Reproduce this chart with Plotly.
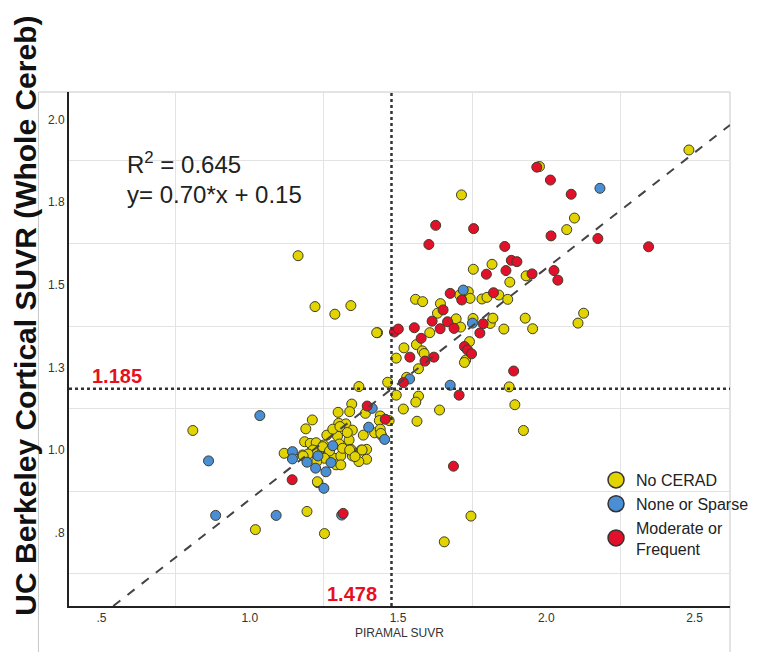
import plotly.graph_objects as go

# ---------------- data ----------------
no_cerad_x = [2.481, 1.977, 1.714, 2.095, 2.069, 1.754, 1.817, 1.932, 1.877, 1.737, 1.708, 1.743, 1.559, 1.583,
              1.783, 1.800, 1.840, 1.870, 1.643, 1.633, 1.696, 1.711, 1.753, 1.811, 1.820, 1.857, 1.929, 1.954,
              2.107, 2.126, 1.431, 1.607, 1.520, 1.562, 1.582, 1.588, 1.494, 1.569, 1.741, 1.728, 1.724, 1.465,
              1.529, 1.875, 1.494, 1.569,
              1.560, 1.518, 1.640, 1.564, 1.894, 1.923, 1.390, 1.440, 1.437, 1.470, 1.421, 1.440, 1.444, 1.394,
              1.394, 1.746, 1.656,
              1.163, 1.220, 1.287, 1.341, 1.428, 1.368,
              0.808, 1.230, 1.193, 1.019, 1.252,
              1.344, 1.298, 1.337, 1.211, 1.300, 1.324, 1.346, 1.189, 1.260, 1.296, 1.335, 1.383, 1.185, 1.204,
              1.224, 1.249, 1.302, 1.341, 1.376, 1.116, 1.178, 1.202, 1.222, 1.246, 1.268, 1.285, 1.307, 1.291,
              1.307, 1.346, 1.368, 1.228, 1.280, 1.304, 1.329, 1.246, 1.313, 1.269, 1.213, 1.197, 1.180, 1.252,
              1.337, 1.355, 1.379, 1.226, 1.442]
no_cerad_y = [1.908, 1.858, 1.772, 1.702, 1.667, 1.547, 1.562, 1.527, 1.508, 1.479, 1.469, 1.459, 1.456, 1.449,
              1.457, 1.462, 1.469, 1.456, 1.443, 1.414, 1.397, 1.372, 1.398, 1.383, 1.399, 1.366, 1.399, 1.367,
              1.384, 1.414, 1.355, 1.355, 1.309, 1.319, 1.300, 1.292, 1.278, 1.246, 1.328, 1.272, 1.265, 1.205,
              1.220, 1.191, 1.166, 1.163,
              1.145, 1.124, 1.121, 1.087, 1.137, 1.059, 1.111, 1.103, 1.089, 1.089, 1.052, 1.063, 1.045, 1.002,
              0.972, 0.800, 0.722,
              1.588, 1.434, 1.411, 1.437, 1.355, 1.192,
              1.059, 0.901, 0.814, 0.759, 0.747,
              1.139, 1.114, 1.116, 1.091, 1.081, 1.079, 1.060, 1.064, 1.045, 1.042, 1.030, 1.045, 1.025, 1.020,
              1.022, 1.015, 1.018, 1.002, 1.000, 0.990, 0.985, 0.990, 0.998, 0.978, 0.982, 0.975, 0.982, 0.955,
              0.955, 0.982, 0.965, 0.904, 1.063, 1.071, 1.053, 1.010, 1.005, 0.997, 1.000, 0.988, 0.982, 0.975,
              1.000, 0.980, 1.000, 0.965, 1.050]

sparse_x = [2.181, 1.720, 1.751, 1.539, 1.676, 1.413, 1.401, 1.455, 1.034, 0.861, 1.250, 0.885, 1.089, 1.310,
            1.280, 1.144, 1.144, 1.193, 1.230, 1.274, 1.222, 1.257]
sparse_y = [1.792, 1.484, 1.384, 1.215, 1.196, 1.126, 1.069, 1.032, 1.104, 0.967, 0.884, 0.802, 0.802, 0.803,
            1.013, 0.995, 0.973, 0.963, 0.982, 0.962, 0.945, 0.934]

moderate_x = [1.968, 2.014, 2.084, 1.627, 1.755, 1.604, 2.016, 2.174, 2.345, 1.860, 1.882, 1.901, 1.864, 1.798,
              1.952, 2.026, 2.039, 1.676, 1.715, 1.822, 1.652, 1.615, 1.667, 1.642, 1.689, 1.787, 1.776, 1.488,
              1.501, 1.555, 1.578, 1.540, 1.591, 1.621, 1.724, 1.734, 1.748, 1.890, 1.518, 1.706, 1.687, 1.396,
              1.457, 1.143, 1.315]
moderate_y = [1.856, 1.817, 1.774, 1.680, 1.670, 1.622, 1.648, 1.640, 1.615, 1.616, 1.574, 1.570, 1.543, 1.532,
              1.533, 1.543, 1.514, 1.474, 1.454, 1.476, 1.424, 1.390, 1.388, 1.367, 1.368, 1.382, 1.354, 1.357,
              1.366, 1.370, 1.338, 1.281, 1.269, 1.281, 1.313, 1.303, 1.291, 1.239, 1.204, 1.166, 0.951, 1.133,
              1.093, 0.910, 0.808]

series_names = ["No CERAD", "None or Sparse", "Moderate or<br>Frequent"]
series_colors = ["#e2d400", "#4a8fd6", "#e3102c"]

fit_slope = 0.70
fit_intercept = 0.15
r_squared = 0.645
x_cut = 1.478
y_cut = 1.185

x_tick_vals = [0.5, 1.0, 1.5, 2.0, 2.5]
x_tick_text = [".5", "1.0", "1.5", "2.0", "2.5"]
x_grid_vals = [0.75, 1.25, 1.75, 2.25]
y_tick_vals = [0.75, 1.0, 1.25, 1.5, 1.75, 2.0]
y_tick_text = [".8", "1.0", "1.3", "1.5", "1.8", "2.0"]
y_grid_vals = [0.625, 0.875, 1.125, 1.375, 1.625, 1.875]

x_range = [0.3904, 2.6196]
y_range = [0.5278, 2.0835]

# ---------------- figure ----------------
fig = go.Figure()

tick_font = dict(family="Liberation Sans Narrow, Arial Narrow, Liberation Sans, Arial", size=12, color="#333333")

for xs, ys, col in [(no_cerad_x, no_cerad_y, series_colors[0]),
                    (sparse_x, sparse_y, series_colors[1]),
                    (moderate_x, moderate_y, series_colors[2])]:
    fig.add_trace(go.Scatter(x=xs, y=ys, mode="markers", showlegend=False, hoverinfo="skip",
                             marker=dict(size=10, color=col, line=dict(color="#3d3d2a", width=1))))

# regression line
x_start = (y_range[0] - fit_intercept) / fit_slope
fit_x = [x_start, x_range[1]]
fit_y = [fit_slope * v + fit_intercept for v in fit_x]
fig.add_trace(go.Scatter(x=fit_x, y=fit_y, mode="lines", showlegend=False, hoverinfo="skip",
                         line=dict(color="#444444", width=2, dash="dash")))

# legend entries
for name, col in zip(series_names, series_colors):
    fig.add_trace(go.Scatter(x=[None], y=[None], mode="markers", name=name,
                             marker=dict(size=16, color=col, line=dict(color="#333333", width=1.5))))

# dotted cut lines
fig.add_shape(type="line", xref="x", yref="paper", x0=x_cut, x1=x_cut, y0=0, y1=1,
              line=dict(color="#333333", width=2.5, dash="dot"), layer="above")
fig.add_shape(type="line", xref="paper", yref="y", x0=0, x1=1, y0=y_cut, y1=y_cut,
              line=dict(color="#333333", width=2.5, dash="dot"), layer="above")

# outer chart frame
fig.add_shape(type="rect", xref="paper", yref="paper", x0=-0.0462, x1=1.0, y0=-0.2, y1=1.0,
              line=dict(color="#c8c8c8", width=1), layer="below")

fig.add_annotation(xref="paper", yref="paper", x=(126 - 69) / 671, y=(606 - 163) / 514,
                   text=f"R<sup>2</sup> = {r_squared:.3f}",
                   showarrow=False, xanchor="left", yanchor="middle",
                   font=dict(family="Liberation Sans, Arial", size=24, color="#222222"))
fig.add_annotation(xref="paper", yref="paper", x=(126 - 69) / 671, y=(606 - 195) / 514,
                   text=f"y= {fit_slope:.2f}*x + {fit_intercept:.2f}",
                   showarrow=False, xanchor="left", yanchor="middle",
                   font=dict(family="Liberation Sans, Arial", size=24, color="#222222"))
fig.add_annotation(xref="paper", yref="y", x=(90 - 69) / 671, y=y_cut, yshift=13,
                   text=f"{y_cut:.3f}", showarrow=False, xanchor="left", yanchor="middle",
                   font=dict(family="Liberation Sans, Arial", size=20, color="#e8101e", weight="bold"))
fig.add_annotation(xref="x", yref="paper", x=x_cut, y=(606 - 594) / 514, xshift=-12,
                   text=f"{x_cut:.3f}", showarrow=False, xanchor="right", yanchor="middle",
                   font=dict(family="Liberation Sans, Arial", size=20, color="#e8101e", weight="bold"))
# axis titles
fig.add_annotation(xref="paper", yref="paper", x=(24 - 69) / 671, y=(606 - 316) / 514,
                   text="UC Berkeley Cortical SUVR (Whole Cereb)", textangle=-90, showarrow=False,
                   xanchor="center", yanchor="middle",
                   font=dict(family="Liberation Sans, Arial", size=30, color="#111111", weight="bold"))
fig.add_annotation(xref="paper", yref="paper", x=(404 - 69) / 671, y=(606 - 633) / 514,
                   text="PIRAMAL SUVR", showarrow=False, xanchor="center", yanchor="middle",
                   font=tick_font)

fig.update_xaxes(range=x_range, tickvals=x_tick_vals, ticktext=x_tick_text, showgrid=False,
                 zeroline=False, showline=True, linecolor="#222222", linewidth=2, ticks="",
                 tickfont=tick_font,
                 minor=dict(tickvals=x_grid_vals, showgrid=True, gridcolor="#e3e3e3", gridwidth=1, ticks=""))
fig.update_yaxes(range=y_range, tickvals=y_tick_vals, ticktext=y_tick_text, showgrid=False,
                 zeroline=False, showline=True, linecolor="#222222", linewidth=2, ticks="",
                 tickfont=tick_font,
                 minor=dict(tickvals=y_grid_vals, showgrid=True, gridcolor="#e3e3e3", gridwidth=1, ticks=""))

fig.update_layout(
    width=766, height=652,
    margin=dict(l=69, r=26, t=92, b=46),
    paper_bgcolor="white", plot_bgcolor="white",
    hovermode=False,
    legend=dict(x=(604 - 69) / 671, y=(606 - 463) / 514, xanchor="left", yanchor="top",
                bgcolor="rgba(0,0,0,0)", itemsizing="trace", tracegroupgap=0,
                font=dict(family="Liberation Sans, Arial", size=16, color="#222222")),
)

fig.write_html("out.html", config={"displayModeBar": False},
               post_script="document.body.style.margin='0';document.body.style.overflow='hidden';")
